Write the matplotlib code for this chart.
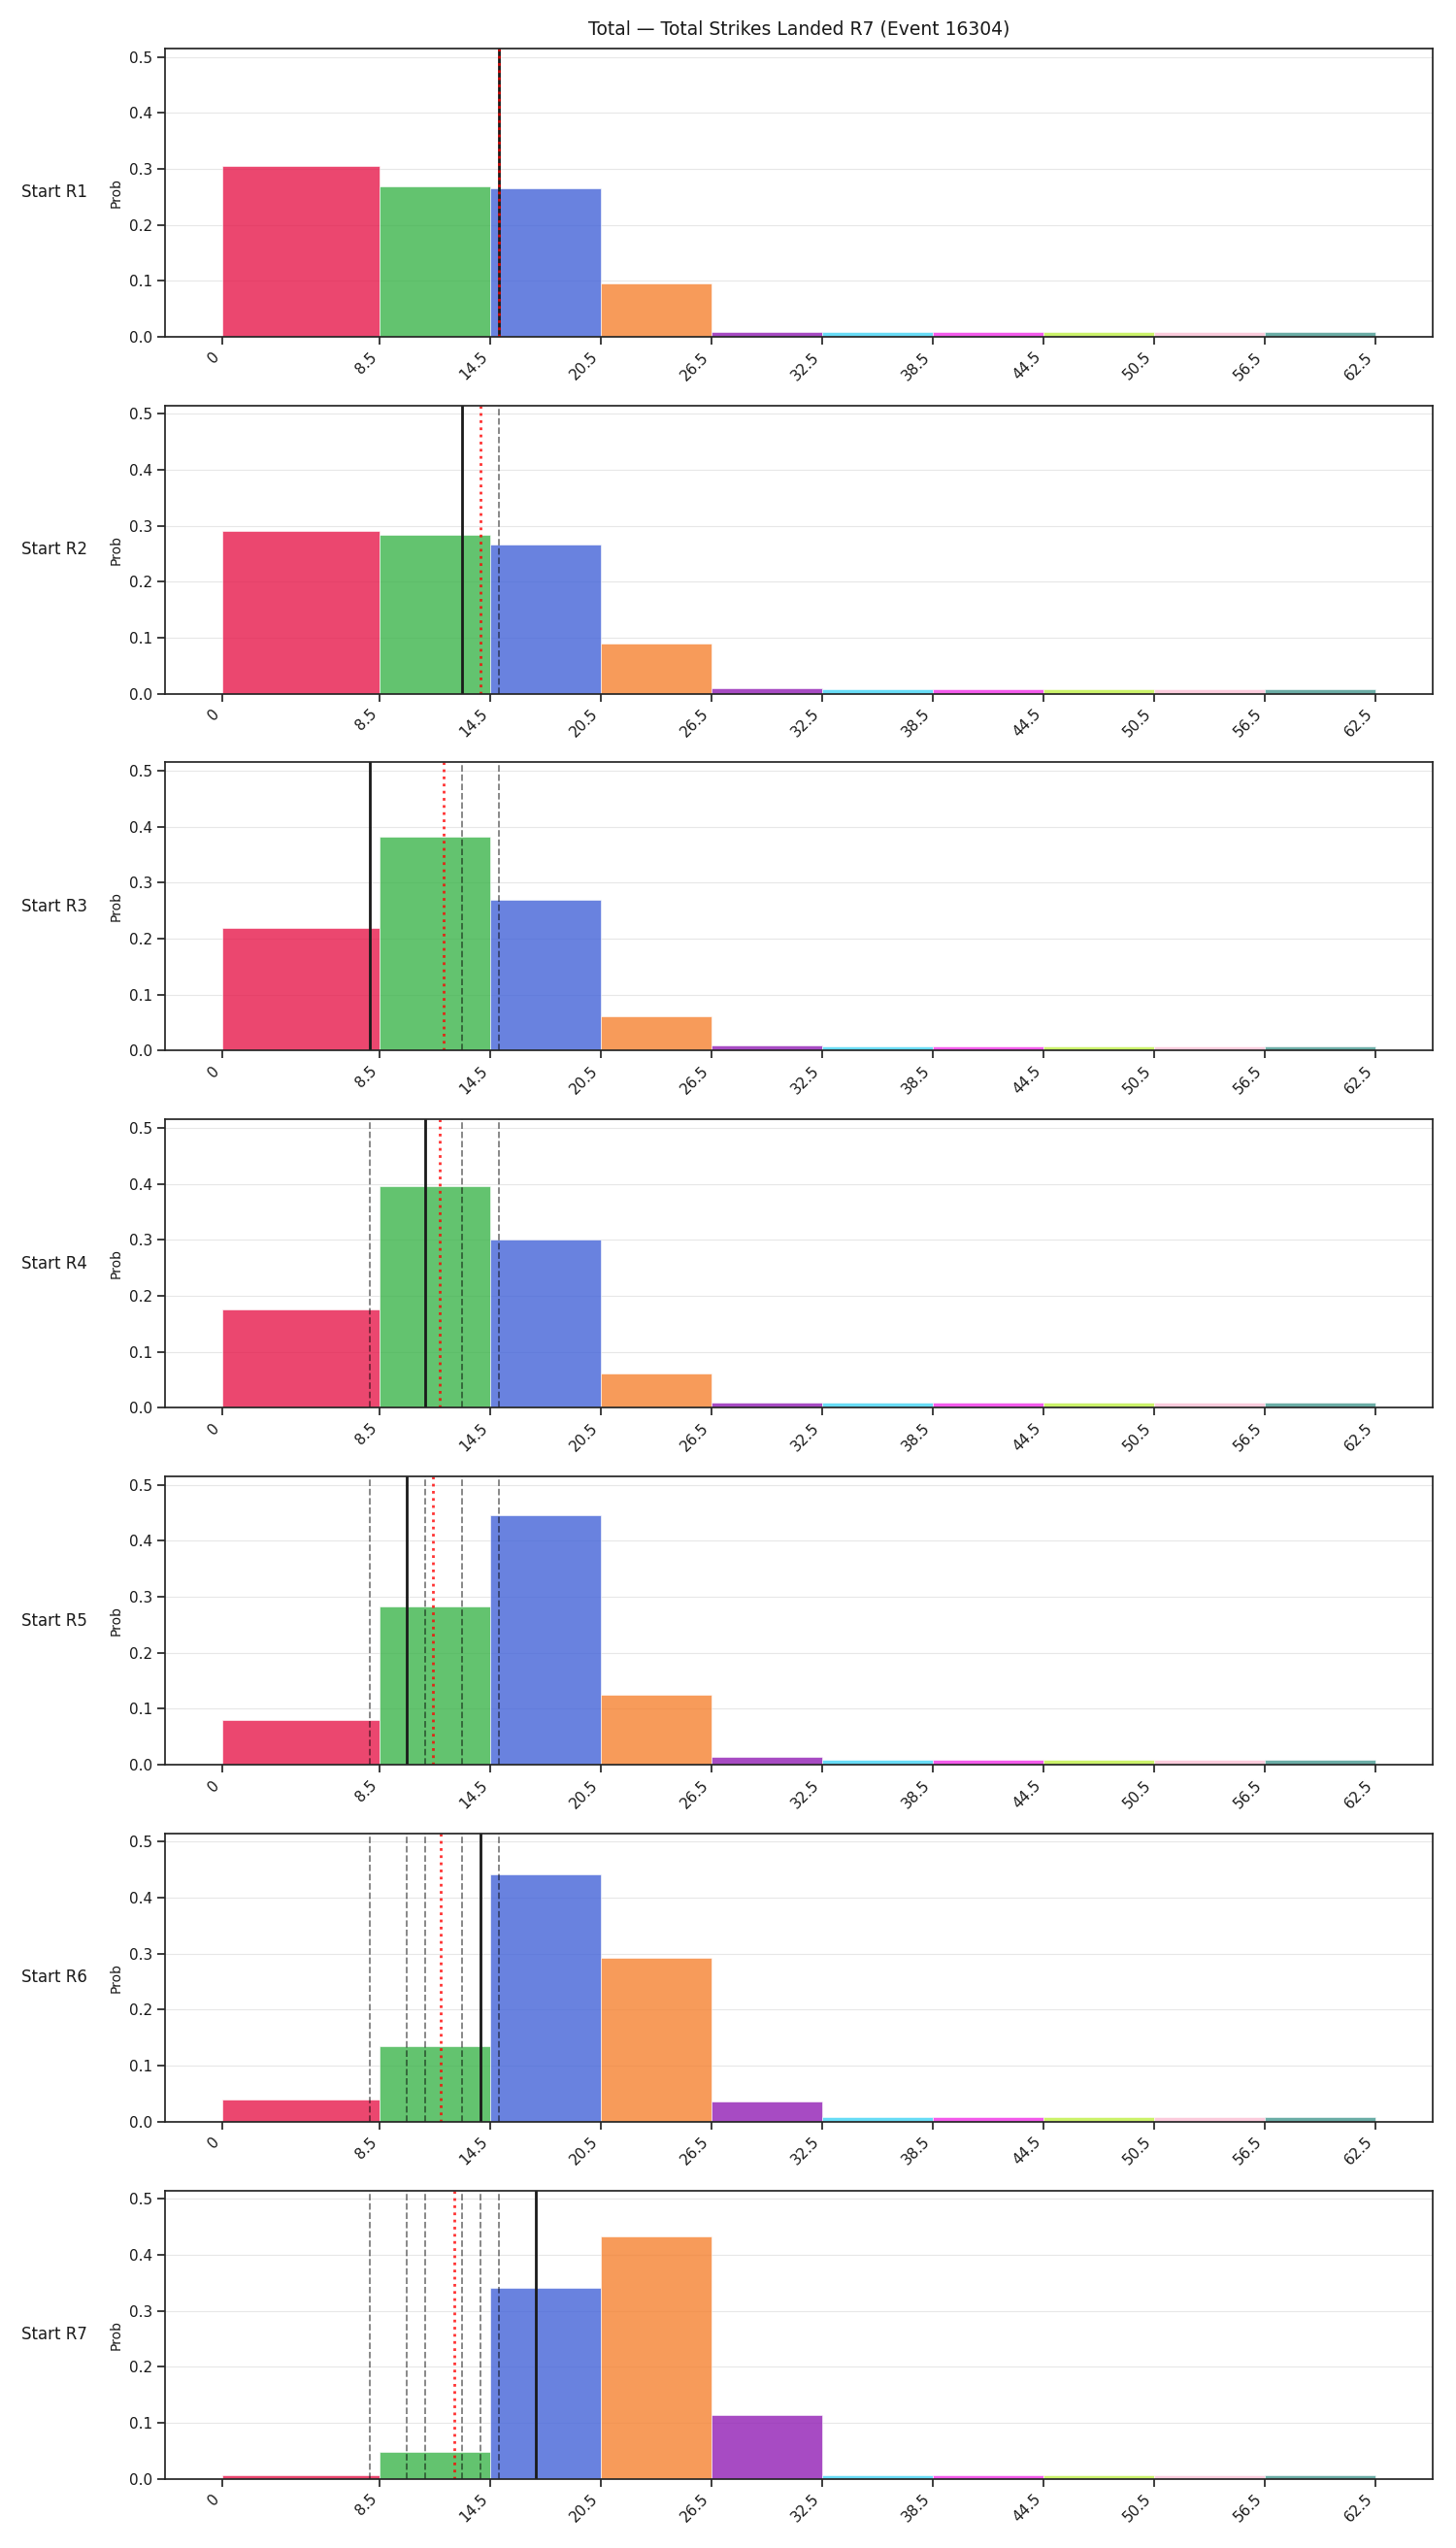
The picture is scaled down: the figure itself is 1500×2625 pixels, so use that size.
import numpy as np
import matplotlib
matplotlib.use("Agg")
import matplotlib.pyplot as plt

TITLE = "Total — Total Strikes Landed R7 (Event 16304)"
ROW_LABELS = ["Start R1", "Start R2", "Start R3", "Start R4", "Start R5", "Start R6", "Start R7"]

# bin edges of the histogram (x axis)
EDGES = [0, 8.5, 14.5, 20.5, 26.5, 32.5, 38.5, 44.5, 50.5, 56.5, 62.5]
TICK_LABELS = ["0", "8.5", "14.5", "20.5", "26.5", "32.5", "38.5", "44.5", "50.5", "56.5", "62.5"]
BIN_COLORS = ["#e6194B", "#3cb44b", "#4363d8", "#f58231", "#911eb4",
              "#42d4f4", "#f032e6", "#bfef45", "#fabed4", "#469990"]

# probabilities per bin, one list per starting round
PROB_R1 = [0.305, 0.268, 0.265, 0.095, 0.0087, 0.0085, 0.0085, 0.0085, 0.0085, 0.0085]
PROB_R2 = [0.291, 0.283, 0.266, 0.089, 0.0092, 0.0085, 0.0085, 0.0085, 0.0085, 0.0085]
PROB_R3 = [0.220, 0.383, 0.270, 0.062, 0.0087, 0.0085, 0.0085, 0.0085, 0.0085, 0.0085]
PROB_R4 = [0.175, 0.396, 0.301, 0.062, 0.0087, 0.0085, 0.0085, 0.0085, 0.0085, 0.0085]
PROB_R5 = [0.080, 0.282, 0.446, 0.125, 0.0144, 0.008, 0.008, 0.008, 0.008, 0.008]
PROB_R6 = [0.040, 0.135, 0.442, 0.292, 0.036, 0.008, 0.008, 0.008, 0.008, 0.008]
PROB_R7 = [0.007, 0.047, 0.341, 0.433, 0.114, 0.0065, 0.0065, 0.0065, 0.0065, 0.0065]

# actual value line for each round, and the running average line
ACTUAL = [15, 13, 8, 11, 10, 14, 17]
AVERAGE = [15.0, 14.0, 12.0, 11.75, 11.4, 11.83, 12.57]

Y_TOP = 0.515


def main():
    plt.rcParams.update({
        "font.family": "DejaVu Sans",
        "text.color": "#1a1a1a",
        "axes.labelcolor": "#1a1a1a",
        "axes.edgecolor": "#262626",
        "axes.linewidth": 1.25,
        "xtick.color": "#262626",
        "ytick.color": "#262626",
        "xtick.labelcolor": "#1a1a1a",
        "ytick.labelcolor": "#1a1a1a",
        "xtick.major.size": 6,
        "ytick.major.size": 6,
        "xtick.major.width": 1.25,
        "ytick.major.width": 1.25,
        "xtick.labelsize": 11,
        "ytick.labelsize": 11,
    })

    probs = [PROB_R1, PROB_R2, PROB_R3, PROB_R4, PROB_R5, PROB_R6, PROB_R7]
    edges = np.array(EDGES)
    widths = np.diff(edges)

    fig, axes = plt.subplots(len(probs), 1, figsize=(15, 26.25), dpi=100)
    fig.subplots_adjust(left=0.1133, right=0.9843, top=0.981, bottom=0.0272, hspace=0.238)

    for i, ax in enumerate(axes):
        ax.bar(edges[:-1], probs[i], width=widths, align="edge", color=BIN_COLORS,
               alpha=0.8, edgecolor="white", linewidth=0.5)
        ax.grid(axis="y", alpha=0.3)
        ax.set_axisbelow(True)

        # earlier rounds as dashed lines
        for v in ACTUAL[:i]:
            ax.axvline(v, color="k", linestyle="--", linewidth=1.3, alpha=0.5)
        ax.axvline(ACTUAL[i], color="#1a1a1a", linewidth=2)
        ax.axvline(AVERAGE[i], color="red", linestyle=":", linewidth=2, alpha=0.8)

        ax.set_ylim(0, Y_TOP)
        ax.set_xticks(EDGES)
        ax.set_xticklabels(TICK_LABELS, rotation=45, ha="right")
        ax.set_ylabel("Prob", fontsize=10)
        ax.text(-0.061, 0.5, ROW_LABELS[i], transform=ax.transAxes,
                ha="right", va="center", fontsize=12)

    axes[0].set_title(TITLE, fontsize=13.5, pad=10)
    fig.savefig("out.png", dpi=100)


if __name__ == "__main__":
    main()
